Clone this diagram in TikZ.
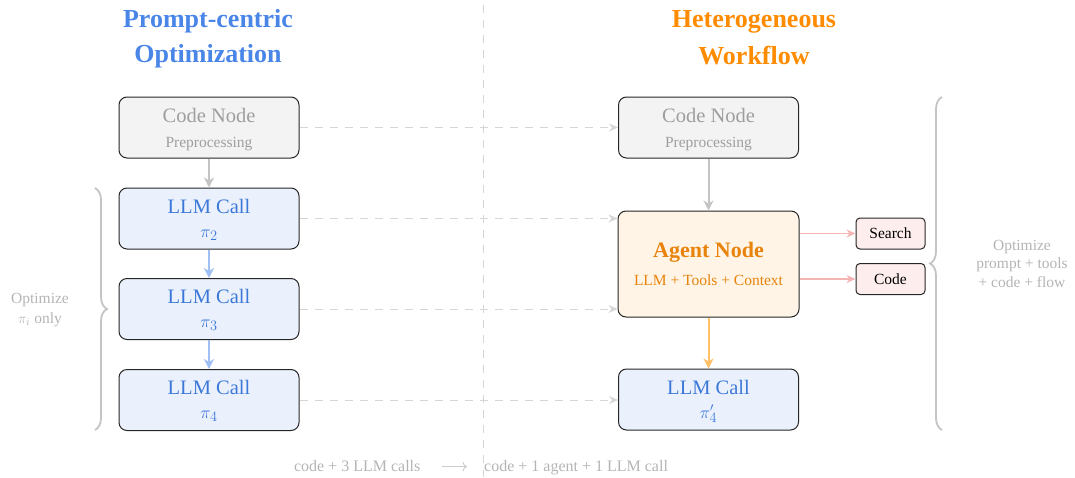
\documentclass[tikz,border=0pt]{standalone}
\usepackage{fontspec}
\setmainfont{Liberation Serif}
\usetikzlibrary{arrows.meta,decorations.pathreplacing}

\definecolor{titleblue}{HTML}{4A86E8}
\definecolor{titleorange}{HTML}{FF8C00}
\definecolor{llmtext}{HTML}{3C78D8}
\definecolor{llmfill}{HTML}{EAF1FD}
\definecolor{codefill}{HTML}{F3F3F3}
\definecolor{codetext}{HTML}{9E9E9E}
\definecolor{agentfill}{HTML}{FFF4E5}
\definecolor{agenttext}{HTML}{E8830C}
\definecolor{toolfill}{HTML}{FDEDED}
\definecolor{softgray}{HTML}{C4C4C4}
\definecolor{dashgray}{HTML}{D6D6D6}
\definecolor{notegray}{HTML}{B4B4B4}
\definecolor{softblue}{HTML}{A0BFF4}
\definecolor{softorange}{HTML}{FFC066}
\definecolor{softpink}{HTML}{F4B4B4}

\newcommand{\bigfont}{\fontsize{20.5}{24}\selectfont}
\newcommand{\smallfont}{\fontsize{15.5}{18}\selectfont}
\newcommand{\pifont}{\fontsize{17.5}{20}\selectfont}
\newcommand{\headfont}{\fontsize{26}{30}\selectfont\bfseries}
% policy symbol with an enlarged index
\newcommand{\policy}[2][]{\ensuremath{\pi#1_{\hbox{\fontsize{13.5}{14}\selectfont$#2$}}}}

\begin{document}
\begin{tikzpicture}[x=1pt,y=-1pt,
  box/.style={draw=black!85,line width=1pt,rounded corners=8pt,
    minimum width=180pt,minimum height=61pt,inner sep=0pt},
  codebox/.style={box,fill=codefill},
  llmbox/.style={box,fill=llmfill},
  agentbox/.style={box,fill=agentfill,minimum width=181pt,minimum height=106pt},
  toolbox/.style={draw=black!85,line width=1pt,rounded corners=4pt,fill=toolfill,
    minimum width=69pt,minimum height=31pt,inner sep=0pt,font=\smallfont},
  lbl/.style={anchor=base,inner sep=0pt},
  flow/.style={line width=2pt,-{Stealth[length=10pt,width=10pt,inset=3pt]}},
  link/.style={dashgray,line width=1pt,dash pattern=on 8pt off 7pt,
    -{Stealth[length=9pt,width=8pt,inset=3pt]}},
  tool/.style={softpink,line width=1.4pt,-{Stealth[length=9pt,width=8pt,inset=3pt]}},
  curly/.style={decorate,decoration={brace,amplitude=12pt},softgray,line width=1.8pt},
  note/.style={notegray,font=\smallfont,align=center,inner sep=0pt}
]
\useasboundingbox (0,0) rectangle (1075,477);

% column headings
\node[lbl,titleblue,font=\headfont] (headL1) at (208,27) {Prompt-centric};
\node[lbl,titleblue,font=\headfont] (headL2) at (208,62) {Optimization};
\node[lbl,titleorange,font=\headfont] (headR1) at (754,27) {Heterogeneous};
\node[lbl,titleorange,font=\headfont] (headR2) at (754,64) {Workflow};

% column separator
\coordinate (sepTop) at (483,5);
\coordinate (sepBot) at (483,477);
\draw[dashgray,line width=1pt,dash pattern=on 8pt off 7pt] (sepTop) -- (sepBot);

% left pipeline
\node[codebox] (codeL) at (209,127.5) {};
\node[lbl,codetext,font=\bigfont] (codeLt) at (209,122) {Code Node};
\node[lbl,codetext,font=\smallfont] (codeLs) at (209,147) {Preprocessing};

\node[llmbox] (llm2) at (209,218.5) {};
\node[lbl,llmtext,font=\bigfont] (llm2t) at (209,213) {LLM Call};
\node[lbl,llmtext,font=\pifont] (llm2s) at (209,237) {\policy{2}};

\node[llmbox] (llm3) at (209,309) {};
\node[lbl,llmtext,font=\bigfont] (llm3t) at (209,303.5) {LLM Call};
\node[lbl,llmtext,font=\pifont] (llm3s) at (209,327.5) {\policy{3}};

\node[llmbox] (llm4) at (209,400) {};
\node[lbl,llmtext,font=\bigfont] (llm4t) at (209,394.5) {LLM Call};
\node[lbl,llmtext,font=\pifont] (llm4s) at (209,418.5) {\policy{4}};

% right pipeline
\node[codebox] (codeR) at (708.5,127.5) {};
\node[lbl,codetext,font=\bigfont] (codeRt) at (708.5,122) {Code Node};
\node[lbl,codetext,font=\smallfont] (codeRs) at (708.5,147) {Preprocessing};

\node[agentbox] (agent) at (708.5,264) {};
\node[lbl,agenttext,font=\fontsize{22}{26}\selectfont\bfseries] (agentt) at (708.5,257) {Agent Node};
\node[lbl,agenttext,font=\smallfont] (agents) at (708.5,285) {LLM + Tools + Context};

\node[llmbox] (llm4p) at (708.5,399.5) {};
\node[lbl,llmtext,font=\bigfont] (llm4pt) at (708.5,394) {LLM Call};
\node[lbl,llmtext,font=\pifont] (llm4ps) at (708.5,418) {\policy[']{4}};

% tools
\node[toolbox] (search) at (890.5,233.5) {Search};
\node[toolbox] (code) at (890.5,279) {Code};

% vertical flow
\draw[flow,softgray] (codeL) -- (llm2);
\draw[flow,softblue] (llm2) -- (llm3);
\draw[flow,softblue] (llm3) -- (llm4);
\draw[flow,softgray] (codeR) -- (agent);
\draw[flow,softorange] (agent) -- (llm4p);

% correspondence links
\draw[link] (codeL.east) -- (codeR.west);
\draw[link] (llm2.east) -- (agent.west |- llm2.east);
\draw[link] (llm3.east) -- (agent.west |- llm3.east);
\draw[link] (llm4.east) -- (llm4p.west |- llm4.east);

% tool calls
\draw[tool] (agent.east |- search.west) -- (search.west);
\draw[tool] (agent.east |- code.west) -- (code.west);

% braces
\coordinate (braceLa) at (95,188);
\coordinate (braceLb) at (95,430);
\draw[curly] (braceLa) -- (braceLb);
\coordinate (braceRa) at (942,430);
\coordinate (braceRb) at (942,97);
\draw[curly] (braceRa) -- (braceRb);

% annotations
\node[lbl,note] (noteL1) at (40,303) {Optimize};
\node[lbl,note] (noteL2) at (40,323) {$\pi_i$ only};
\node[lbl,note] (noteR1) at (1022,250) {Optimize};
\node[lbl,note] (noteR2) at (1022,268.5) {prompt + tools};
\node[lbl,note] (noteR3) at (1022,287) {+ code + flow};

\node[lbl,note,font=\fontsize{16}{18}\selectfont] (summary) at (481,471) {code + 3 LLM calls \quad$\longrightarrow$\quad code + 1 agent + 1 LLM call};
\end{tikzpicture}
\end{document}
